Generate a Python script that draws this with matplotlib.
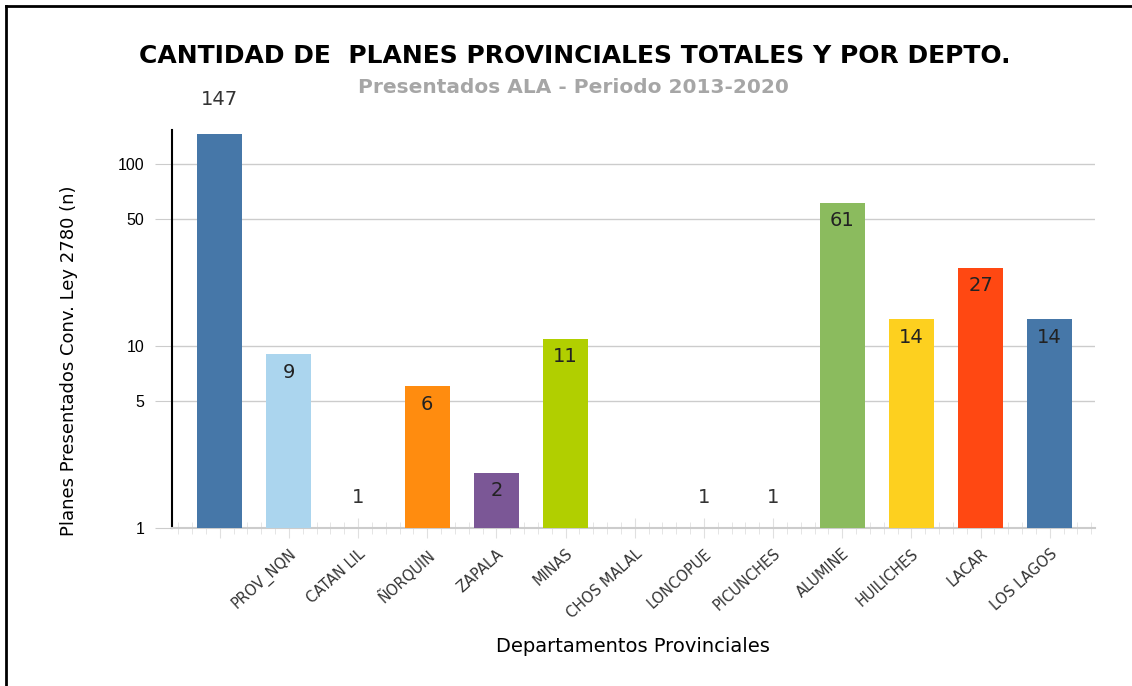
import matplotlib.pyplot as plt
from matplotlib.ticker import FixedLocator, MultipleLocator, NullFormatter
from matplotlib.lines import Line2D
import numpy as np

# datos (13 barras, 12 etiquetas en el eje)
deptos = ["", "PROV_NQN", "CATAN LIL", "ÑORQUIN", "ZAPALA", "MINAS", "CHOS MALAL",
          "LONCOPUE", "PICUNCHES", "ALUMINE", "HUILICHES", "LACAR", "LOS LAGOS"]
planes = [147, 9, 1, 6, 2, 11, np.nan, 1, 1, 61, 14, 27, 14]
colores = ["#4677a8", "#abd5ee", "#4677a8", "#ff8c0f", "#7b5796", "#b1cf00", "#4677a8",
           "#4677a8", "#4677a8", "#8bbb5e", "#fdd01f", "#ff4812", "#4677a8"]
yticks = [1, 5, 10, 50, 100]

fig = plt.figure(figsize=(11.32, 6.86), dpi=100)
ax = fig.add_axes([0.152, 0.2303, 0.815, 0.5802])

x = np.arange(len(planes))
ax.bar(x, planes, bottom=0, width=0.65, color=colores, zorder=3)
ax.set_yscale("log")
ax.set_ylim(1, 154)
ax.set_xlim(-0.69, 12.65)

# etiquetas de valor
for xi, v in zip(x, planes):
    if np.isnan(v):
        continue
    if v >= 100:
        ax.text(xi, 227, str(v), ha="center", va="center", fontsize=14, color="#333333",
                clip_on=False)
    elif v <= 1:
        ax.text(xi, 1.48, str(v), ha="center", va="center", fontsize=14, color="#333333")
    else:
        ax.text(xi, v * 0.8, str(v), ha="center", va="center", fontsize=14, color="#222222",
                zorder=4)

ax.yaxis.set_major_locator(FixedLocator(yticks))
ax.yaxis.set_minor_locator(FixedLocator([]))
ax.set_yticklabels([str(t) for t in yticks], fontsize=11.5, family="Liberation Sans")
ax.grid(axis="y", color="#cccccc", linewidth=1, zorder=0)
ax.tick_params(axis="y", length=12, color="#cccccc", pad=8)

ax.set_xticks(x)
ax.set_xticklabels(deptos, rotation=42, ha="right", rotation_mode="anchor",
                   fontsize=10.5, color="#333333")
ax.xaxis.set_minor_locator(MultipleLocator(0.2))
ax.xaxis.set_minor_formatter(NullFormatter())
ax.tick_params(axis="x", which="major", direction="inout", length=14, color="#e0e0e0",
               pad=6)
ax.tick_params(axis="x", which="minor", direction="inout", length=8, color="#e0e0e0")

for s in ["top", "right"]:
    ax.spines[s].set_visible(False)
ax.spines["bottom"].set_color("#cccccc")
ax.spines["bottom"].set_linewidth(1.5)
ax.spines["left"].set_color("black")
ax.spines["left"].set_linewidth(1.5)

ax.set_ylabel("Planes Presentados Conv. Ley 2780 (n)", fontsize=13)
ax.yaxis.set_label_coords(-0.102, 0.42)
ax.set_xlabel("Departamentos Provinciales", fontsize=14)
ax.xaxis.set_label_coords(0.50, -0.275)

fig.text(0.508, 0.918, "CANTIDAD DE  PLANES PROVINCIALES TOTALES Y POR DEPTO.",
         ha="center", va="center", fontsize=18, fontweight="bold")
fig.text(0.507, 0.873, "Presentados ALA - Periodo 2013-2020", ha="center", va="center",
         fontsize=14.5, fontweight="bold", color="#a6a6a6")

# marco negro (izquierda y arriba)
fig.add_artist(Line2D([5.5 / 1132, 5.5 / 1132], [0, 1 - 6 / 686], color="black", lw=2,
                      transform=fig.transFigure))
fig.add_artist(Line2D([5.5 / 1132, 1], [1 - 6 / 686, 1 - 6 / 686], color="black", lw=2,
                      transform=fig.transFigure))

fig.savefig("out.png", dpi=100)
